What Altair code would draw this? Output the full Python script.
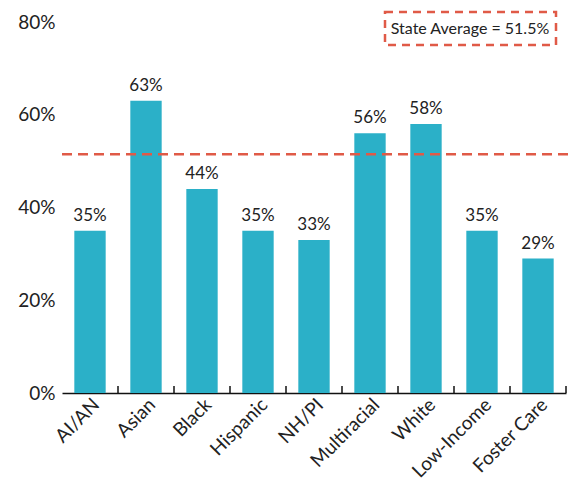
import altair as alt
import pandas as pd

categories = ["AI/AN", "Asian", "Black", "Hispanic", "NH/PI", "Multiracial", "White", "Low-Income", "Foster Care"]
values = [35, 63, 44, 35, 33, 56, 58, 35, 29]
labels = ["35%", "63%", "44%", "35%", "33%", "56%", "58%", "35%", "29%"]
state_avg = 51.5
state_avg_label = "State Average = 51.5%"
y_ticks = [0, 20, 40, 60, 80]

df = pd.DataFrame({"cat": categories, "val": values, "lab": labels})

FONT = "Lato"
BAR = "#2BB0C8"
RED = "#E05A47"
W, H = 504, 371

xscale = alt.Scale(paddingInner=0.44, paddingOuter=0.22)
yscale = alt.Scale(domain=[0, 80])

base = alt.Chart(df)

bars = base.mark_bar(color=BAR).encode(
    x=alt.X("cat:N", sort=categories, scale=xscale, title=None,
            axis=alt.Axis(labelAngle=-45, labelAlign="right", labelBaseline="top",
                          labelFontSize=19, labelFont=FONT, labelColor="#222",
                          ticks=False, domainColor="#111", domainWidth=1.5,
                          labelPadding=2)),
    y=alt.Y("val:Q", scale=yscale, title=None,
            axis=alt.Axis(values=y_ticks, labelExpr="datum.value + '%'", grid=False,
                          domain=False, ticks=False, labelFontSize=19, labelFont=FONT,
                          labelColor="#222", labelPadding=7)),
)

text = base.mark_text(dy=-6, baseline="bottom", fontSize=17, font=FONT, color="#222").encode(
    x=alt.X("cat:N", sort=categories, scale=xscale),
    y=alt.Y("val:Q", scale=yscale),
    text="lab:N",
)

ticks = base.mark_rule(color="#111", strokeWidth=1.5).encode(
    x=alt.X("cat:N", sort=categories, scale=alt.Scale(padding=0), axis=None, bandPosition=1),
    y=alt.value(H - 7),
    y2=alt.value(H),
)

avg_df = pd.DataFrame({"v": [state_avg], "t": [state_avg_label]})
avg_line = alt.Chart(avg_df).mark_rule(color=RED, strokeWidth=2.5, strokeDash=[10, 6]).encode(
    y=alt.Y("v:Q", scale=yscale),
    x=alt.value(0),
    x2=alt.value(W + 4),
)

box = alt.Chart(avg_df).mark_rect(fill="white", stroke=RED, strokeWidth=2.5, strokeDash=[8, 6]).encode(
    x=alt.value(323), x2=alt.value(494), y=alt.value(-10), y2=alt.value(23),
)
box_text = alt.Chart(avg_df).mark_text(fontSize=16, font=FONT, color="#222").encode(
    x=alt.value(408), y=alt.value(7), text="t:N",
)

main = alt.layer(bars, text, avg_line, box, box_text)
chart = alt.layer(main, ticks).resolve_scale(x="independent").properties(
    width=W, height=H,
    autosize=alt.AutoSizeParams(type="none"),
    padding={"left": 54, "top": 14, "right": 2, "bottom": 90},
).configure_view(stroke=None)

chart.save("out.html", embed_options={"renderer": "svg", "actions": False})
